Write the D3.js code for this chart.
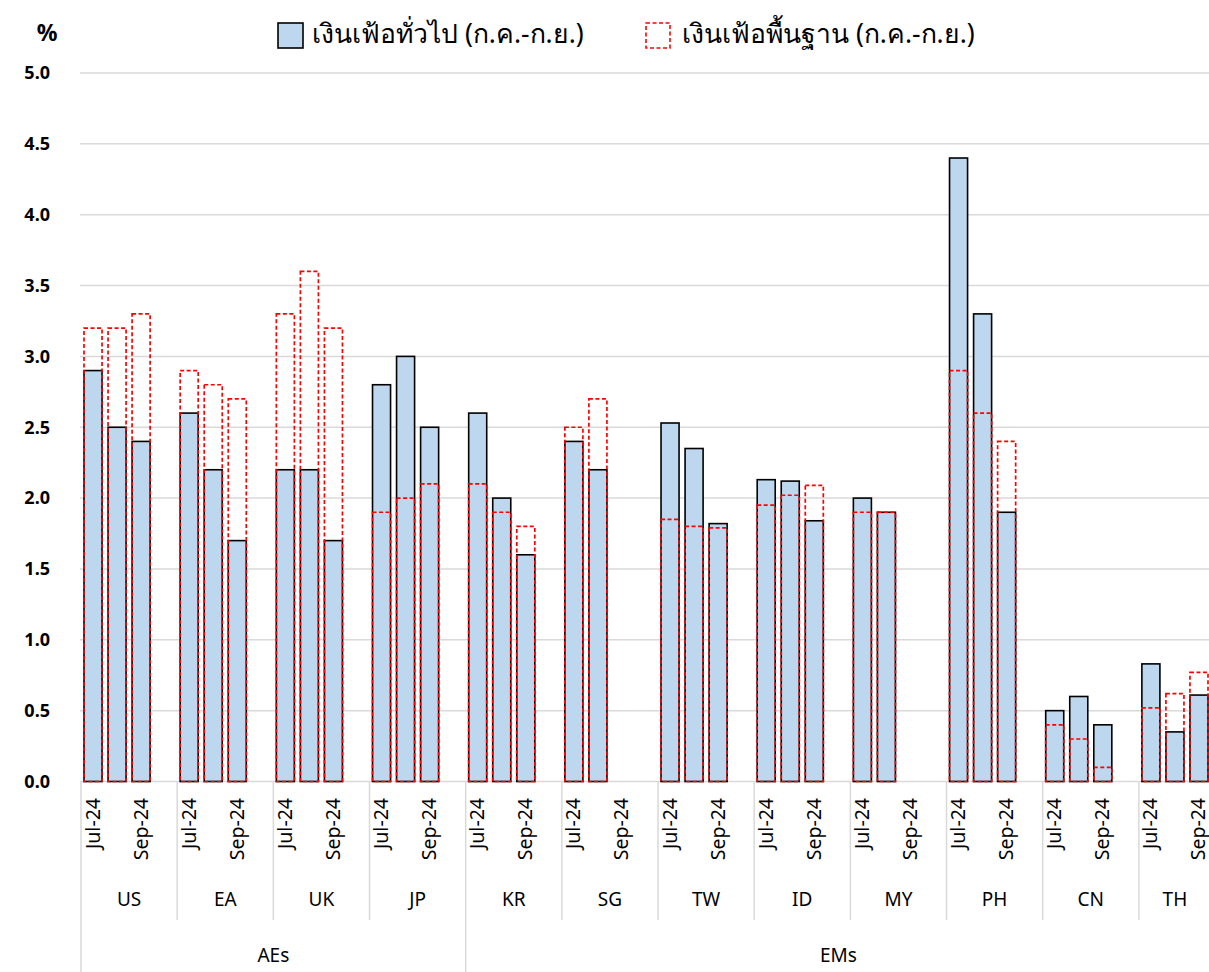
<!DOCTYPE html>
<html>
<head>
<meta charset="utf-8">
<script src="https://cdn.jsdelivr.net/npm/d3@7"></script>
<style>
  body { margin: 0; background: #fff; }
  svg { display: block; font-family: "Noto Sans", "Open Sans", "DejaVu Sans", sans-serif; }
</style>
</head>
<body>
<div id="scene"></div>
<script>
// categories
var countries = ["US", "EA", "UK", "JP", "KR", "SG", "TW", "ID", "MY", "PH", "CN", "TH"];
var regionOf = ["AEs", "AEs", "AEs", "AEs", "EMs", "EMs", "EMs", "EMs", "EMs", "EMs", "EMs", "EMs"];
var months = ["Jul-24", "Aug-24", "Sep-24"];
var shownMonths = ["Jul-24", "Sep-24"];

// headline inflation, Jul / Aug / Sep
var headline = [
  [2.9, 2.5, 2.4],
  [2.6, 2.2, 1.7],
  [2.2, 2.2, 1.7],
  [2.8, 3.0, 2.5],
  [2.6, 2.0, 1.6],
  [2.4, 2.2, null],
  [2.53, 2.35, 1.82],
  [2.13, 2.12, 1.84],
  [2.0, 1.9, null],
  [4.4, 3.3, 1.9],
  [0.5, 0.6, 0.4],
  [0.83, 0.35, 0.61]
];

// core inflation, Jul / Aug / Sep
var core = [
  [3.2, 3.2, 3.3],
  [2.9, 2.8, 2.7],
  [3.3, 3.6, 3.2],
  [1.9, 2.0, 2.1],
  [2.1, 1.9, 1.8],
  [2.5, 2.7, null],
  [1.85, 1.80, 1.79],
  [1.95, 2.02, 2.09],
  [1.9, 1.9, null],
  [2.9, 2.6, 2.4],
  [0.4, 0.3, 0.1],
  [0.52, 0.62, 0.77]
];

var yTicks = [0, 0.5, 1, 1.5, 2, 2.5, 3, 3.5, 4, 4.5, 5];
var legendLabels = ["เงินเฟ้อทั่วไป (ก.ค.-ก.ย.)", "เงินเฟ้อพื้นฐาน (ก.ค.-ก.ย.)"];

var ctx = {
  w: 1209,
  h: 972,
  left: 81,
  right: 1211,
  top: 73,
  bottom: 781.5
};

// flat category list: each country gets its months plus an empty spacer slot (not after the last one)
var cats = [];
countries.forEach(function(c, ci) {
  months.forEach(function(m, mi) {
    cats.push({key: c + "|" + m, country: c, ci: ci, month: m, mi: mi});
  });
  if (ci < countries.length - 1) cats.push({key: c + "|gap", country: c, ci: ci, month: "", mi: -1});
});

var svg = d3.select("#scene").append("svg")
  .attr("width", ctx.w)
  .attr("height", ctx.h);

var x = d3.scaleBand()
  .domain(cats.map(function(d) { return d.key; }))
  .range([ctx.left, ctx.right])
  .paddingInner(0.25)
  .paddingOuter(0.125);

var y = d3.scaleLinear()
  .domain([0, 5])
  .range([ctx.bottom, ctx.top]);

var step = x.step();
var catIndex = function(key) { return x.domain().indexOf(key); };
var groupStart = function(ci) { return ctx.left + catIndex(countries[ci] + "|" + months[0]) * step; };
var groupEnd = function(ci) { return ci < countries.length - 1 ? groupStart(ci + 1) : ctx.right; };

// gridlines
svg.append("g")
  .selectAll("line")
  .data(yTicks)
  .enter()
  .append("line")
  .attr("x1", ctx.left - 1)
  .attr("x2", ctx.w)
  .attr("y1", function(d) { return y(d); })
  .attr("y2", function(d) { return y(d); })
  .attr("stroke", "#d9d9d9")
  .attr("stroke-width", 1.5);

// y labels
svg.append("g")
  .selectAll("text")
  .data(yTicks)
  .enter()
  .append("text")
  .attr("x", 50)
  .attr("y", function(d) { return y(d); })
  .attr("dy", "0.35em")
  .attr("text-anchor", "end")
  .attr("font-size", 18)
  .attr("font-weight", "bold")
  .attr("fill", "#000")
  .text(function(d) { return d3.format(".1f")(d); });

svg.append("text")
  .attr("x", 47)
  .attr("y", 41)
  .attr("text-anchor", "middle")
  .attr("font-size", 23)
  .attr("font-weight", "bold")
  .text("%");

// headline bars
var hData = [];
var cData = [];
countries.forEach(function(c, ci) {
  months.forEach(function(m, mi) {
    if (headline[ci][mi] != null) hData.push({key: c + "|" + m, v: headline[ci][mi]});
    if (core[ci][mi] != null) cData.push({key: c + "|" + m, v: core[ci][mi]});
  });
});

svg.append("g")
  .selectAll("rect")
  .data(hData)
  .enter()
  .append("rect")
  .attr("x", function(d) { return x(d.key); })
  .attr("width", x.bandwidth())
  .attr("y", function(d) { return y(d.v); })
  .attr("height", function(d) { return y(0) - y(d.v); })
  .attr("fill", "#bdd7ee")
  .attr("stroke", "#000")
  .attr("stroke-width", 1.6);

svg.append("g")
  .selectAll("rect")
  .data(cData)
  .enter()
  .append("rect")
  .attr("x", function(d) { return x(d.key); })
  .attr("width", x.bandwidth())
  .attr("y", function(d) { return y(d.v); })
  .attr("height", function(d) { return y(0) - y(d.v); })
  .attr("fill", "none")
  .attr("stroke", "#ff0000")
  .attr("stroke-width", 1.7)
  .attr("stroke-dasharray", "4,2.5");

// category axis
var axisG = svg.append("g");
var lineColor = "#d9d9d9";

// vertical separators between countries
countries.forEach(function(c, ci) {
  var isRegionEdge = ci === 0 || regionOf[ci] !== regionOf[ci - 1];
  axisG.append("line")
    .attr("x1", groupStart(ci))
    .attr("x2", groupStart(ci))
    .attr("y1", ctx.bottom)
    .attr("y2", isRegionEdge ? ctx.h : 920)
    .attr("stroke", lineColor)
    .attr("stroke-width", 1.5);
});

// month labels (every other one, as in the source)
axisG.selectAll("text.month")
  .data(cats.filter(function(d) { return shownMonths.indexOf(d.month) >= 0; }))
  .enter()
  .append("text")
  .attr("class", "month")
  .attr("transform", function(d) {
    return "translate(" + (x(d.key) + x.bandwidth() / 2 + 6.5) + "," + 798 + ") rotate(-90)";
  })
  .attr("text-anchor", "end")
  .attr("font-size", 19.5)
  .attr("fill", "#000")
  .text(function(d) { return d.month; });

// country labels
axisG.selectAll("text.country")
  .data(countries)
  .enter()
  .append("text")
  .attr("class", "country")
  .attr("x", function(d, i) { return (groupStart(i) + groupEnd(i)) / 2; })
  .attr("y", 906)
  .attr("text-anchor", "middle")
  .attr("font-size", 19)
  .text(function(d) { return d; });

// region labels
var regions = ["AEs", "EMs"];
axisG.selectAll("text.region")
  .data(regions)
  .enter()
  .append("text")
  .attr("class", "region")
  .attr("x", function(r) {
    var first = regionOf.indexOf(r);
    var last = regionOf.lastIndexOf(r);
    return (groupStart(first) + groupEnd(last)) / 2;
  })
  .attr("y", 962)
  .attr("text-anchor", "middle")
  .attr("font-size", 19)
  .text(function(d) { return d; });

// legend
var legend = svg.append("g");
legend.append("rect")
  .attr("x", 278).attr("y", 23).attr("width", 25).attr("height", 25)
  .attr("fill", "#bdd7ee").attr("stroke", "#000").attr("stroke-width", 1.6);
legend.append("text")
  .attr("x", 312).attr("y", 43)
  .attr("font-size", 26.5)
  .text(legendLabels[0]);
legend.append("rect")
  .attr("x", 646).attr("y", 23).attr("width", 24).attr("height", 25)
  .attr("fill", "none").attr("stroke", "#ff0000").attr("stroke-width", 1.6)
  .attr("stroke-dasharray", "4,2.5");
legend.append("text")
  .attr("x", 682).attr("y", 43)
  .attr("font-size", 26.5)
  .text(legendLabels[1]);
</script>
</body>
</html>
